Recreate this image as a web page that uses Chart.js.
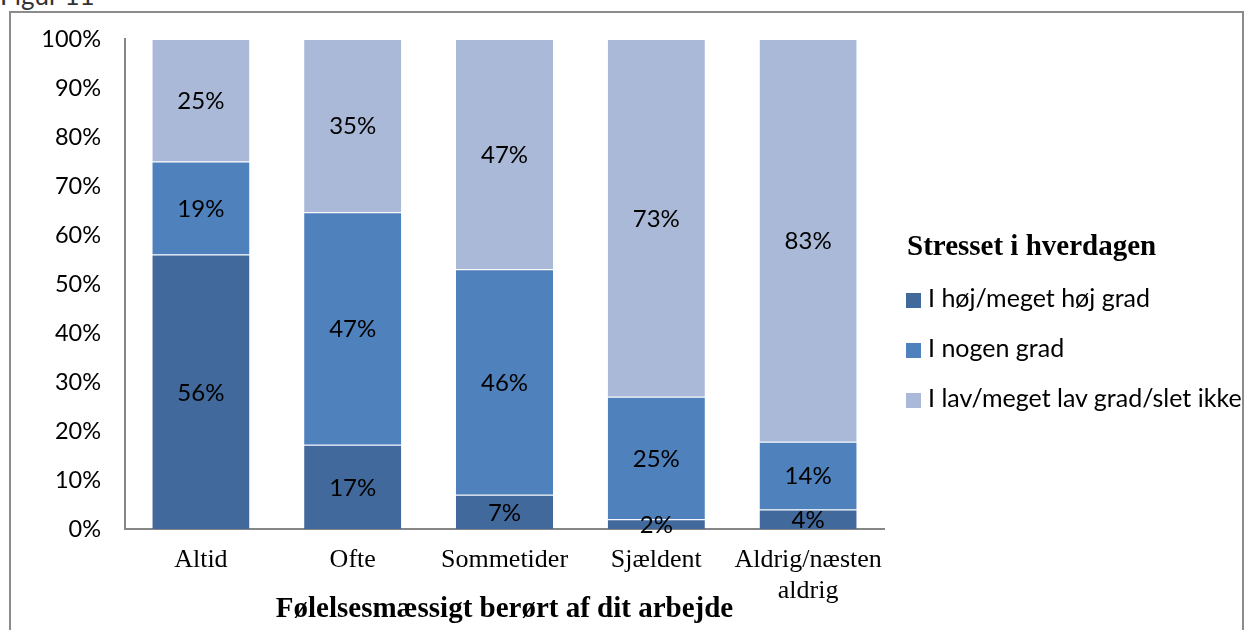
<!DOCTYPE html>
<html>
<head>
<meta charset="utf-8">
<script src="https://cdn.jsdelivr.net/npm/chart.js@4.4.0/dist/chart.umd.min.js"></script>
<style>
    html, body { margin: 0; padding: 0; background: #fff; overflow: hidden; }
    #wrap { position: relative; width: 1245px; height: 630px; }
    #fig { position: absolute; left: 0; top: -21px; font: 26px Lato, sans-serif; color: #333; }
    #frame { position: absolute; left: 9px; top: 11px; width: 1231px; height: 660px; border: 2px solid #8c8c8c; }
    canvas { position: absolute; left: 0; top: 0; }
    #legend { position: absolute; left: 906px; top: 228px; white-space: nowrap; }
    #legend .title { font: bold 29px "Liberation Serif", serif; line-height: 34px; height: 44px; padding-left: 1px; color: #000; }
    #legend .item { font: 25px Lato, sans-serif; line-height: 50px; height: 50px; color: #000; }
    #legend .swatch { display: inline-block; width: 15px; height: 15px; margin-right: 7px; vertical-align: -1px; }
</style>
</head>
<body>
<div id="wrap">
    <div id="fig">Figur 11</div>
    <div id="frame"></div>
    <canvas id="stressChart" width="1245" height="630"></canvas>
    <div id="legend"><div class="title">Stresset i hverdagen</div></div>
</div>
<script>
const categories = ["Altid", "Ofte", "Sommetider", "Sjældent", ["Aldrig/næsten", "aldrig"]];
const seriesNames = ["I høj/meget høj grad", "I nogen grad", "I lav/meget lav grad/slet ikke"];
const highValues = [56, 17, 7, 2, 4];
const someValues = [19, 47, 46, 25, 14];
const lowValues = [25, 35, 47, 73, 83];
const yTicks = [0, 10, 20, 30, 40, 50, 60, 70, 80, 90, 100];
const colors = ["#41699b", "#4f81bd", "#aab9d7"];

// each column is shown as a share of its own total (100% stacked)
const totals = highValues.map((v, i) => v + someValues[i] + lowValues[i]);
function shares(values) {
    return values.map((v, i) => (v / totals[i]) * 100);
}

const rawSeries = [highValues, someValues, lowValues];

// percentage text in the middle of every segment
const segmentLabels = {
    id: "segmentLabels",
    afterDatasetsDraw(chart) {
        const ctx = chart.ctx;
        ctx.save();
        ctx.font = "24px Lato";
        ctx.fillStyle = "#000";
        ctx.textAlign = "center";
        ctx.textBaseline = "middle";
        chart.data.datasets.forEach((ds, i) => {
            chart.getDatasetMeta(i).data.forEach((bar, j) => {
                const p = bar.getProps(["x", "y", "base"], true);
                ctx.fillText(rawSeries[i][j] + "%", p.x, (p.y + p.base) / 2 + 1);
            });
        });
        ctx.restore();
    },
};

// legend list beside the plot, built from the datasets
const htmlLegend = {
    id: "htmlLegend",
    afterUpdate(chart) {
        const legend = document.getElementById("legend");
        legend.querySelectorAll(".item").forEach((el) => el.remove());
        chart.data.datasets.forEach((ds) => {
            const item = document.createElement("div");
            item.className = "item";
            const swatch = document.createElement("span");
            swatch.className = "swatch";
            swatch.style.background = ds.backgroundColor;
            item.appendChild(swatch);
            item.appendChild(document.createTextNode(ds.label));
            legend.appendChild(item);
        });
    },
};

const data = {
    labels: categories,
    datasets: rawSeries.map((values, i) => ({
        label: seriesNames[i],
        data: shares(values),
        backgroundColor: colors[i],
        borderColor: "rgba(255, 255, 255, 0.25)",
        borderWidth: { top: 1, bottom: 0, left: 0, right: 0 },
        borderSkipped: false,
        categoryPercentage: 1,
        barPercentage: 0.64,
    })),
};

const config = {
    type: "bar",
    data: data,
    options: {
        responsive: false,
        animation: false,
        events: [],
        layout: {
            padding: { top: 39, right: 361, bottom: 0, left: 0 },
        },
        plugins: {
            tooltip: { enabled: false },
            legend: { display: false },
        },
        scales: {
            x: {
                stacked: true,
                grid: { display: false, drawTicks: false },
                border: { color: "#868686", width: 2 },
                ticks: {
                    color: "#000",
                    font: { family: "Liberation Serif", size: 26, lineHeight: 1.18 },
                    padding: 16,
                    autoSkip: false,
                    maxRotation: 0,
                    minRotation: 0,
                },
                title: {
                    display: true,
                    text: "Følelsesmæssigt berørt af dit arbejde",
                    color: "#000",
                    font: { family: "Liberation Serif", size: 29, weight: "bold" },
                    padding: { top: 0, bottom: 3 },
                },
                afterFit(scale) {
                    scale.height = 101;
                },
            },
            y: {
                stacked: true,
                min: 0,
                max: 100,
                grid: { display: false, drawTicks: false },
                border: { color: "#868686", width: 2 },
                afterBuildTicks(scale) {
                    scale.ticks = yTicks.map((v) => ({ value: v }));
                },
                ticks: {
                    color: "#000",
                    font: { family: "Lato", size: 23.5 },
                    padding: 24,
                    callback: (v) => v + "%",
                },
                afterFit(scale) {
                    scale.width = 125;
                },
            },
        },
    },
    plugins: [segmentLabels, htmlLegend],
};

window.onload = function () {
    new Chart(document.getElementById("stressChart"), config);
};
</script>
</body>
</html>
